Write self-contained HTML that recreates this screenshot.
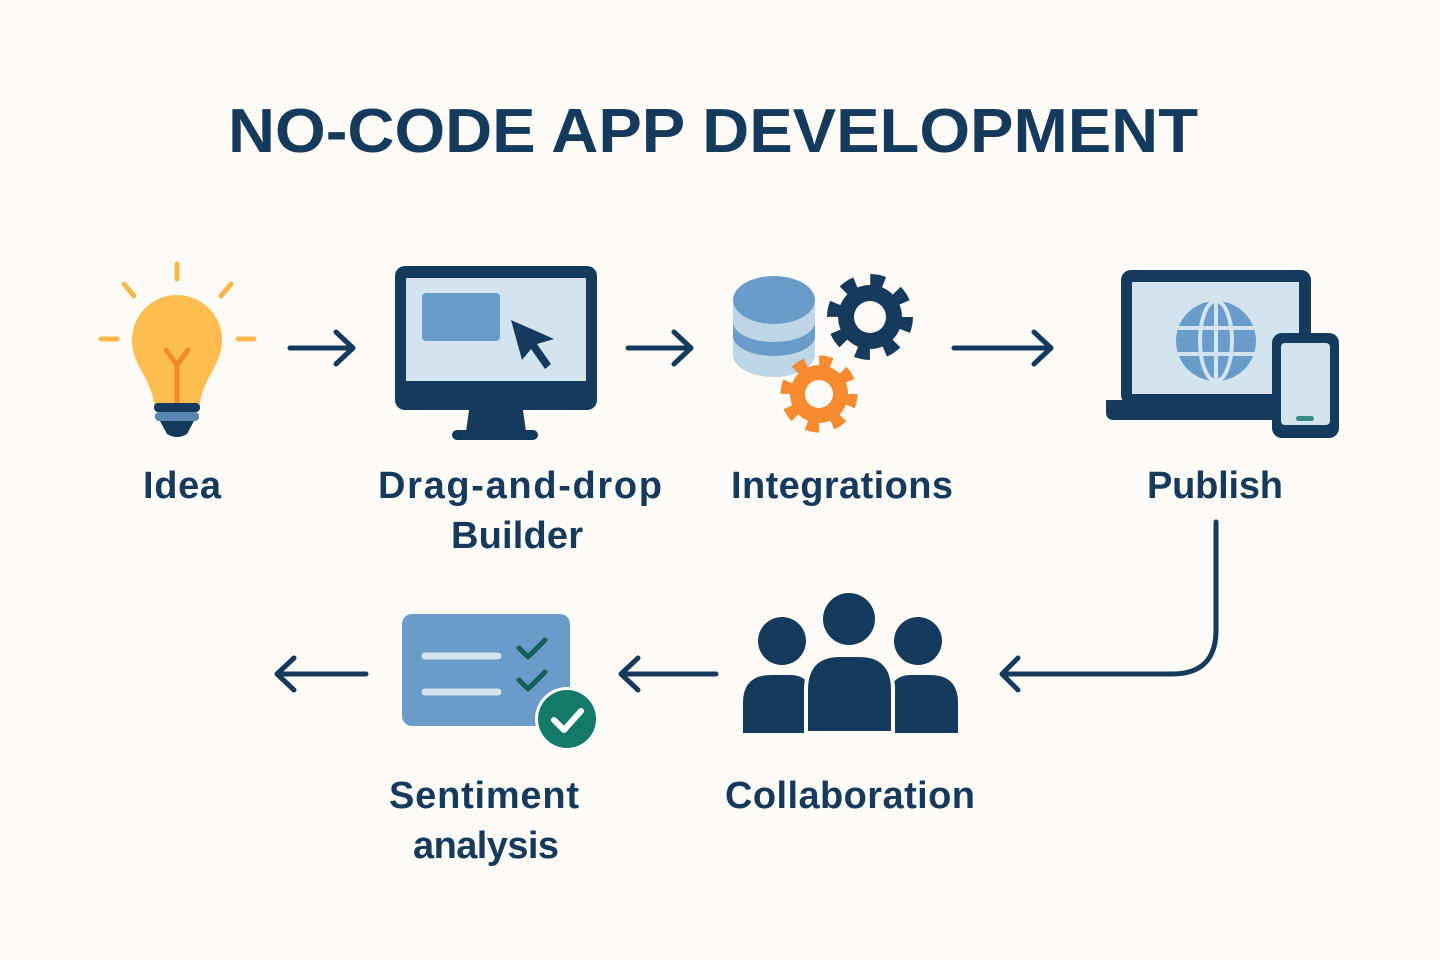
<!DOCTYPE html>
<html><head><meta charset="utf-8"><style>html,body{margin:0;padding:0;background:#fcfbf8}svg{display:block}</style></head><body>
<svg width="1440" height="960" viewBox="0 0 1440 960" xmlns="http://www.w3.org/2000/svg">
<rect width="1440" height="960" fill="#fcfbf8"/>
<text x="713" y="152" text-anchor="middle" font-family="Liberation Sans, sans-serif" font-weight="bold" font-size="62" fill="#163a5c" textLength="970" lengthAdjust="spacingAndGlyphs">NO-CODE APP DEVELOPMENT</text>
<g stroke="#163a5c" stroke-width="5" fill="none" stroke-linecap="round" stroke-linejoin="round">
<path d="M290 348H352M336 332L353 348L336 364"/>
<path d="M628 348H690M674 332L691 348L674 364"/>
<path d="M954 348H1050M1034 332L1051 348L1034 364"/>
<path d="M1216 522V630Q1216 674 1172 674H1002M1018 658L1002 674L1018 690"/>
<path d="M716 674H622M638 658L621 674L638 690"/>
<path d="M366 674H278M294 658L277 674L294 690"/>
</g>
<!-- bulb -->
<g stroke="#fbb84a" stroke-width="5" stroke-linecap="round">
<path d="M177 264V279M124 284L134 296M231 284L221 296M101 339H117M238 339H254"/>
</g>
<path d="M132 340A45 45 0 1 1 222 340C222 365 203 378 200 404H154C151 378 132 365 132 340Z" fill="#fdbd4f"/>
<path d="M177 402V364M166 350L177 365L188 350" stroke="#f28a2d" stroke-width="5" fill="none" stroke-linecap="round"/>
<rect x="154" y="403" width="46" height="9" rx="4" fill="#163a5c"/>
<rect x="155" y="412" width="44" height="9" rx="4" fill="#5b86b0"/>
<path d="M160 421H194L187 434Q177 440 167 434Z" fill="#163a5c"/>
<!-- monitor -->
<rect x="395" y="266" width="202" height="144" rx="10" fill="#163a5c"/>
<rect x="406" y="278" width="180" height="103" fill="#d2e4f0"/>
<rect x="422" y="293" width="78" height="48" rx="4" fill="#6b9bc8"/>
<path d="M511 320L554 339L537 344L551 364L545 369L531 349L522 360Z" fill="#163a5c"/>
<path d="M469 410H523L526 432H466Z" fill="#163a5c"/>
<rect x="452" y="430" width="86" height="10" rx="5" fill="#163a5c"/>
<!-- database -->
<path d="M733 300V355A41 22 0 0 0 815 355V300Z" fill="#bdd6e8"/>
<path d="M733 322V336A41 20 0 0 0 815 336V322A41 20 0 0 1 733 322Z" fill="#6b9bc8"/>
<ellipse cx="774" cy="300" rx="41" ry="24" fill="#6b9bc8"/>
<!-- gears -->
<g transform="translate(870,317)">
<circle r="32" fill="#163a5c"/><circle r="37" fill="none" stroke="#163a5c" stroke-width="12" stroke-dasharray="14 15.05"/>
<circle r="16" fill="#fcfbf8"/></g>
<g transform="translate(819,394)">
<circle r="29" fill="#f68b2f"/><circle r="33" fill="none" stroke="#f68b2f" stroke-width="11" stroke-dasharray="12.5 13.4"/>
<circle r="14" fill="#fcfbf8"/></g>
<!-- laptop -->
<rect x="1121" y="270" width="190" height="135" rx="10" fill="#163a5c"/>
<rect x="1132" y="282" width="167" height="112" fill="#d2e4f0"/>
<path d="M1106 400H1300V420H1114Q1106 420 1106 412Z" fill="#163a5c"/>
<circle cx="1216" cy="341" r="40" fill="#6b9bc8"/>
<g stroke="#d2e4f0" stroke-width="4" fill="none">
<ellipse cx="1216" cy="341" rx="16" ry="40"/><path d="M1216 301V381M1178 328H1254M1178 354H1254"/></g>
<rect x="1272" y="333" width="67" height="105" rx="10" fill="#163a5c"/>
<rect x="1281" y="343" width="49" height="82" rx="4" fill="#d2e4f0"/>
<rect x="1296" y="416" width="18" height="5" rx="2.5" fill="#3a8a8a"/>
<!-- sentiment -->
<rect x="402" y="614" width="168" height="112" rx="10" fill="#6b9bc8"/>
<g stroke="#d2e4f0" stroke-width="7" stroke-linecap="round"><path d="M425 656H498M425 692H498"/></g>
<g stroke="#14605a" stroke-width="5" fill="none" stroke-linecap="round" stroke-linejoin="round"><path d="M519 648L528 657L545 640M519 680L528 689L545 672"/></g>
<circle cx="567" cy="719" r="32" fill="#fcfbf8"/><circle cx="567" cy="719" r="29" fill="#137a6a"/>
<path d="M554 720L564 730L581 711" stroke="#fff" stroke-width="6" fill="none" stroke-linecap="round" stroke-linejoin="round"/>
<!-- collaboration -->
<g fill="#163a5c">
<circle cx="782" cy="641" r="24"/><circle cx="918" cy="641" r="24"/><circle cx="849" cy="619" r="26"/>
<path d="M743 733V703Q743 675 771 675H790Q812 675 812 700V733Z"/>
<path d="M958 733V703Q958 675 930 675H911Q889 675 889 700V733Z"/>
<path d="M806 733V690Q806 655 840 655H859Q893 655 893 690V733Z" stroke="#fcfbf8" stroke-width="4"/>
</g>
<g font-family="Liberation Sans, sans-serif" font-weight="bold" font-size="38" fill="#163a5c" text-anchor="middle" lengthAdjust="spacingAndGlyphs">
<text x="182" y="498" textLength="78">Idea</text>
<text x="520" y="498" textLength="284">Drag-and-drop</text>
<text x="517" y="548" textLength="132">Builder</text>
<text x="842" y="498" textLength="222">Integrations</text>
<text x="1215" y="498" textLength="136">Publish</text>
<text x="484" y="808" textLength="190">Sentiment</text>
<text x="486" y="858" textLength="146">analysis</text>
<text x="850" y="808" textLength="250">Collaboration</text>
</g>
</svg>
</body></html>
